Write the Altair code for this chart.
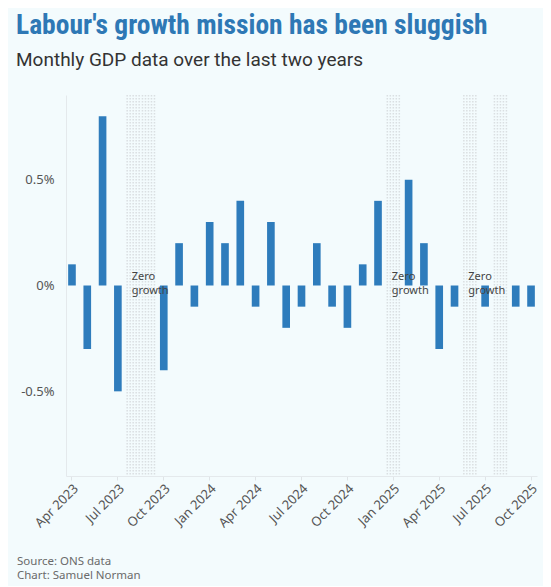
import altair as alt
import pandas as pd

months = ["Apr 2023", "May 2023", "Jun 2023", "Jul 2023", "Aug 2023", "Sep 2023",
          "Oct 2023", "Nov 2023", "Dec 2023", "Jan 2024", "Feb 2024", "Mar 2024",
          "Apr 2024", "May 2024", "Jun 2024", "Jul 2024", "Aug 2024", "Sep 2024",
          "Oct 2024", "Nov 2024", "Dec 2024", "Jan 2025", "Feb 2025", "Mar 2025",
          "Apr 2025", "May 2025", "Jun 2025", "Jul 2025", "Aug 2025", "Sep 2025",
          "Oct 2025"]
growth = [0.1, -0.3, 0.8, -0.5, 0.0, 0.0,
          -0.4, 0.2, -0.1, 0.3, 0.2, 0.4,
          -0.1, 0.3, -0.2, -0.1, 0.2, -0.1,
          -0.2, 0.1, 0.4, 0.0, 0.5, 0.2,
          -0.3, -0.1, 0.0, -0.1, 0.0, -0.1,
          -0.1]
tick_months = ["Apr 2023", "Jul 2023", "Oct 2023", "Jan 2024", "Apr 2024", "Jul 2024",
               "Oct 2024", "Jan 2025", "Apr 2025", "Jul 2025", "Oct 2025"]
y_ticks = [-0.5, 0, 0.5]
zero_months = ["Aug 2023", "Sep 2023", "Jan 2025", "Jun 2025", "Aug 2025"]
zero_label_months = ["Aug 2023", "Jan 2025", "Jun 2025"]
zero_label = "Zero\ngrowth"
source_lines = ["Source: ONS data", "Chart: Samuel Norman"]

TITLE = "Labour's growth mission has been sluggish"
SUBTITLE = "Monthly GDP data over the last two years"

W, H = 471, 381
FONT = "Noto Sans"
TFONT = "Roboto Condensed, Liberation Sans Narrow, Roboto"
SFONT = "Roboto"
BG = "#f3fbfd"
GRID = "#e4e9ec"

df = pd.DataFrame({"month": months, "growth": growth})
zdf = pd.DataFrame({"month": zero_months})
ldf = pd.DataFrame({"month": zero_label_months, "label": [zero_label] * len(zero_label_months)})
fdf = pd.DataFrame({"t": ["\n".join(source_lines)]})

xscale = alt.Scale(domain=months, paddingInner=0.5, paddingOuter=0.14)
yscale = alt.Scale(domain=[-0.9, 0.9], nice=False)

x_axis = alt.Axis(values=tick_months, labelAngle=-45, labelAlign="right", labelBaseline="top",
                  labelFont=FONT, labelFontSize=13, labelColor="#555555",
                  domainColor=GRID, tickColor="#dfe4e7", tickSize=4, labelPadding=2,
                  grid=False, title=None)
y_axis = alt.Axis(values=y_ticks, labelExpr="datum.value + '%'",
                  labelFont=FONT, labelFontSize=13, labelColor="#555555",
                  domainColor=GRID, gridColor=GRID, ticks=False, labelPadding=12,
                  title=None)

x_enc = alt.X("month:N", scale=xscale, axis=x_axis, sort=months)

layers = []
for off in [-6, -3, 0, 3, 6]:
    layers.append(
        alt.Chart(zdf).mark_rule(xOffset=off, strokeDash=[1.5, 1.5], strokeWidth=1.5,
                                 color="#dadfe2").encode(
            x=x_enc,
            y=alt.Y(datum=0.9, scale=yscale, axis=y_axis),
            y2=alt.Y2(datum=-0.9),
        )
    )

bars = alt.Chart(df).mark_bar(color="#2e7cbc").encode(
    x=x_enc,
    y=alt.Y("growth:Q", scale=yscale, axis=y_axis),
)
layers.append(bars)

labels = alt.Chart(ldf).mark_text(align="left", baseline="alphabetic", dx=-1.5, dy=-6,
                                  lineBreak="\n", lineHeight=14, fontSize=11,
                                  font=FONT, color="#444444").encode(
    x=x_enc,
    y=alt.Y(datum=0, scale=yscale, axis=y_axis),
    text="label:N",
)
layers.append(labels)

footer = alt.Chart(fdf).mark_text(align="left", baseline="alphabetic", lineBreak="\n",
                                  lineHeight=14, fontSize=11.5, font=FONT,
                                  color="#6a6a6a").encode(
    x=alt.value(-49),
    y=alt.value(469.5),
    text="t:N",
)
layers.append(footer)

chart = alt.layer(*layers).properties(
    width=W,
    height=H,
    background=BG,
    padding={"left": 58, "top": 87, "right": 6, "bottom": 110},
    autosize=alt.AutoSizeParams(type="none"),
    title=alt.TitleParams(
        text=TITLE,
        subtitle=SUBTITLE,
        anchor="start",
        frame="group",
        dx=-50,
        offset=24,
        font=TFONT,
        fontSize=27.5,
        fontWeight="bold",
        color="#2e78b5",
        subtitleFont=SFONT,
        subtitleFontSize=19,
        subtitleFontWeight="normal",
        subtitleColor="#333333",
        subtitlePadding=12,
    ),
).configure_view(stroke=None)

chart.save("out.html", embed_options={"renderer": "svg", "actions": False})
